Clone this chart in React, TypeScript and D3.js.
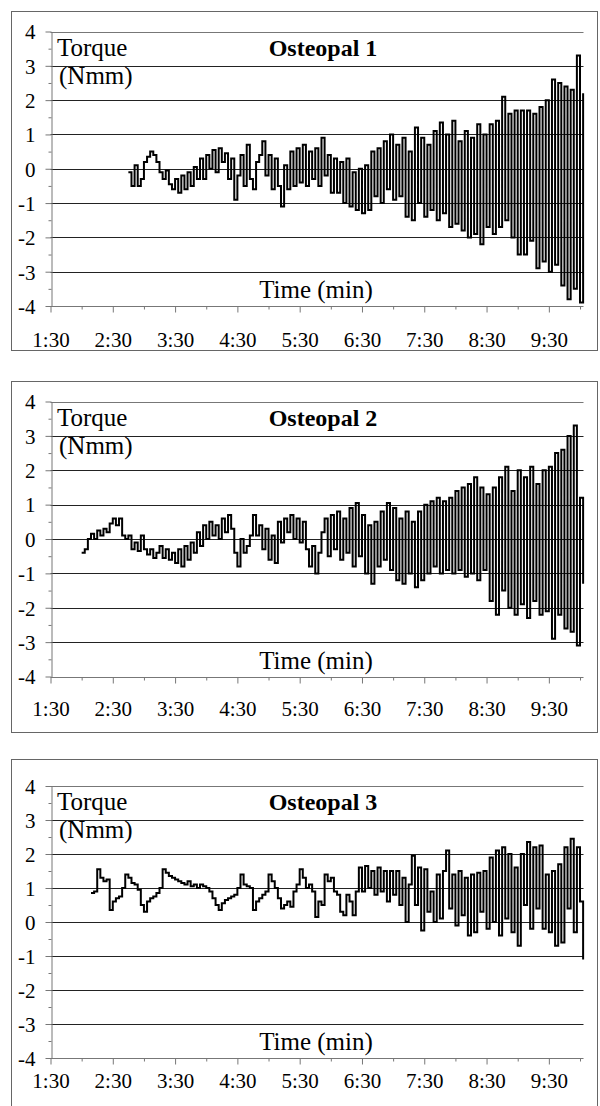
import * as d3 from "d3"
import { useEffect, useRef } from "react"

// torque readings, one every SAMPLE_STEP seconds, starting at the given second
const SAMPLE_STEP = 3

const osteopal1Start = 165
const osteopal1 = [
  -0.1, -0.5, 0.1, -0.5, -0.3, 0.2, 0.35, 0.5, 0.4, 0.2, -0.1, -0.3, -0.05, -0.45, -0.6, -0.3, -0.7, -0.2, -0.6, -0.1,
  -0.5, 0.05, -0.3, 0.3, -0.3, 0.4, 0.0, 0.55, -0.1, 0.6, 0.2, 0.45, -0.3, 0.3, -0.9, -0.2, 0.4, -0.5, 0.7, -0.3,
  -0.6, 0.2, 0.4, 0.8, -0.2, 0.4, -0.6, 0.3, -0.5, -1.1, 0.1, -0.6, 0.5, -0.5, 0.6, -0.4, 0.7, -0.5, 0.5, -0.3,
  0.6, -0.5, 0.9, -0.2, 0.4, -0.7, 0.3, -0.7, 0.2, -1.0, 0.3, -1.1, -0.1, -1.2, 0.0, -1.3, 0.1, -1.2, 0.5, -0.8,
  0.6, -1.0, 0.8, -0.6, 1.0, -0.9, 0.7, -0.8, 0.9, -1.4, 0.5, -1.5, 1.2, -1.0, 0.9, -1.4, 0.7, -1.2, 1.1, -1.5,
  1.35, -1.3, 1.0, -1.7, 1.4, -1.6, 0.8, -1.8, 1.1, -2.0, 0.9, -1.9, 1.3, -2.2, 1.0, -1.7, 1.3, -1.9, 1.4, -1.7,
  2.1, -1.5, 1.6, -2.0, 1.7, -2.5, 1.7, -2.5, 1.7, -2.1, 1.6, -2.9, 1.8, -2.7, 2.0, -3.0, 2.6, -2.8, 2.5, -3.4,
  2.4, -3.8, 2.3, -3.5, 3.3, -3.9, 2.2,
]

const osteopal2Start = 120
const osteopal2 = [
  -0.4, -0.3, 0.0, 0.15, 0.0, 0.25, 0.1, 0.3, 0.2, 0.45, 0.6, 0.4, 0.6, 0.1, 0.0, 0.1, -0.3, -0.1, -0.35, 0.1,
  -0.3, -0.45, -0.3, -0.55, -0.4, -0.2, -0.55, -0.3, -0.6, -0.4, -0.7, -0.3, -0.8, -0.2, -0.6, -0.1, -0.4, 0.2, -0.2, 0.4,
  0.0, 0.5, 0.1, 0.4, 0.0, 0.6, 0.2, 0.7, 0.3, -0.4, -0.8, 0.0, -0.4, -0.2, 0.1, 0.7, 0.1, 0.4, -0.3, 0.3,
  -0.6, 0.1, -0.7, 0.5, -0.1, 0.6, 0.2, 0.7, 0.0, 0.6, -0.1, 0.5, -0.3, -0.8, -0.2, -1.0, -0.4, 0.2, 0.6, -0.5,
  0.7, -0.3, 0.8, -0.6, 0.6, -0.4, 0.9, -0.8, 1.05, -0.5, 0.7, -1.0, 0.4, -1.3, 0.5, -0.8, 0.8, -0.6, 1.05, -0.9,
  0.9, -1.2, 0.6, -1.3, 0.8, -1.0, 0.5, -1.4, 0.8, -1.2, 1.0, -1.0, 1.1, -0.8, 1.2, -1.0, 1.1, -0.9, 1.2, -1.0,
  1.4, -0.9, 1.5, -1.1, 1.6, -1.0, 1.8, -1.2, 1.5, -0.9, 1.3, -1.8, 1.5, -2.2, 1.8, -1.5, 2.1, -2.0, 1.4, -2.2,
  2.0, -1.9, 1.8, -2.3, 2.1, -1.8, 1.6, -2.2, 2.0, -2.1, 2.1, -2.9, 2.5, -2.2, 2.6, -2.6, 3.0, -2.7, 3.3, -3.1,
  1.2, -1.3,
]

const osteopal3Start = 129
const osteopal3 = [
  0.85, 0.9, 1.55, 1.3, 1.2, 1.25, 0.35, 0.6, 0.7, 0.75, 1.0, 1.4, 1.3, 1.15, 1.1, 0.95, 0.5, 0.3, 0.6, 0.7,
  0.75, 0.85, 1.0, 1.55, 1.45, 1.35, 1.3, 1.25, 1.2, 1.15, 1.1, 1.2, 1.05, 1.1, 1.0, 1.1, 1.05, 1.0, 0.9, 0.7,
  0.5, 0.35, 0.55, 0.65, 0.7, 0.75, 0.8, 1.0, 1.4, 1.1, 1.05, 1.0, 0.35, 0.6, 0.7, 0.8, 0.9, 1.4, 1.2, 1.0,
  0.7, 0.4, 0.5, 0.6, 0.45, 0.9, 1.1, 1.55, 1.3, 1.0, 1.1, 0.9, 0.15, 0.6, 0.5, 1.4, 1.2, 1.3, 0.9, 0.8,
  0.3, 0.2, 0.8, 0.6, 0.2, 0.9, 1.6, 0.9, 1.65, 1.0, 1.5, 0.8, 1.6, 0.9, 1.5, 0.6, 1.5, 0.8, 1.5, 0.5,
  1.3, 0.0, 1.1, 1.95, 0.5, 1.6, -0.25, 1.55, 0.3, 0.9, 0.0, 1.4, 0.1, 1.5, 2.1, 0.4, 1.4, -0.1, 1.5, 0.2,
  1.3, -0.4, 1.4, -0.3, 1.45, 0.3, 1.5, -0.2, 1.9, 0.0, 2.1, -0.4, 2.2, 0.1, 2.0, -0.3, 1.6, -0.7, 2.0, 0.5,
  2.35, -0.2, 2.2, 0.4, 2.25, -0.2, 1.4, -0.3, 1.5, -0.7, 1.7, -0.6, 2.2, 0.4, 2.45, -0.3, 2.2, 0.6, -1.1,
]

const panelTitles = ["Osteopal 1", "Osteopal 2", "Osteopal 3"]
const yTicks = [-4, -3, -2, -1, 0, 1, 2, 3, 4]
const yMinorTicks = [-3.5, -2.5, -1.5, -0.5, 0.5, 1.5, 2.5, 3.5]
const xTickSeconds = [90, 150, 210, 270, 330, 390, 450, 510, 570]
const xTickLabels = ["1:30", "2:30", "3:30", "4:30", "5:30", "6:30", "7:30", "8:30", "9:30"]
const xMinorTickSeconds = [120, 180, 240, 300, 360, 420, 480, 540, 600]

const series = [
  { start: osteopal1Start, values: osteopal1 },
  { start: osteopal2Start, values: osteopal2 },
  { start: osteopal3Start, values: osteopal3 },
]

// page layout of the three boxes
const layout = [
  { boxTop: 11, boxBottom: 350, plotTop: 31.5, plotBottom: 306, labelY: 347 },
  { boxTop: 381, boxBottom: 732, plotTop: 401.5, plotBottom: 676.5, labelY: 716 },
  { boxTop: 759, boxBottom: 1115, plotTop: 786, plotBottom: 1058, labelY: 1088 },
]

const FONT = "'Liberation Serif', 'Times New Roman', Times, 'DejaVu Serif', serif"

export default function App() {
  const svgRef = useRef<SVGSVGElement>(null)

  useEffect(() => {
    if (!svgRef.current) return
    const svg = d3.select(svgRef.current)
    svg.selectAll("*").remove()

    const x = d3.scaleLinear().domain([90, 600]).range([50.5, 580])
    const gridRight = 583.5

    layout.forEach((box, idx) => {
      const { start, values } = series[idx]
      const g = svg.append("g")
      const y = d3.scaleLinear().domain([-4, 4]).range([box.plotBottom, box.plotTop])

      g.append("rect")
        .attr("x", 11.5)
        .attr("y", box.boxTop + 0.5)
        .attr("width", 586)
        .attr("height", box.boxBottom - box.boxTop)
        .attr("fill", "white")
        .attr("stroke", "#666")

      // gridlines
      g.append("g")
        .selectAll("line")
        .data(yTicks)
        .join("line")
        .attr("x1", x(90))
        .attr("x2", gridRight)
        .attr("y1", (d) => Math.round(y(d)) + 0.5)
        .attr("y2", (d) => Math.round(y(d)) + 0.5)
        .attr("stroke", (d) => (d === -4 || d === 4 ? "#777" : "#222"))
        .attr("stroke-width", 1)

      // y axis
      g.append("g")
        .attr("transform", `translate(${Math.round(x(90)) + 0.5},0)`)
        .call(d3.axisLeft(y).tickValues(yTicks).tickSize(6).tickSizeOuter(0).tickFormat((d) => String(d)))
        .call((a) => a.select(".domain").attr("stroke", "#777"))
        .call((a) => a.selectAll(".tick line").attr("stroke", "#777"))
        .call((a) =>
          a
            .selectAll("text")
            .attr("x", -16)
            .attr("dy", "0.35em")
            .attr("fill", "#000")
            .style("font-family", FONT)
            .style("font-size", "21px"),
        )
      g.append("g")
        .attr("transform", `translate(${Math.round(x(90)) + 0.5},0)`)
        .call(d3.axisLeft(y).tickValues(yMinorTicks).tickSize(3).tickFormat(() => ""))
        .call((a) => a.select(".domain").remove())
        .call((a) => a.selectAll(".tick line").attr("stroke", "#777"))

      // x axis
      const axisY = Math.round(y(-4)) + 0.5
      g.append("g")
        .attr("transform", `translate(0,${axisY})`)
        .call(d3.axisBottom(x).tickValues(xTickSeconds).tickSize(6).tickSizeOuter(0).tickFormat((_d, i) => xTickLabels[i]))
        .call((a) => a.select(".domain").remove())
        .call((a) => a.selectAll(".tick line").attr("stroke", "#777"))
        .call((a) =>
          a
            .selectAll("text")
            .attr("y", box.labelY - axisY)
            .attr("dy", 0)
            .attr("fill", "#000")
            .style("font-family", FONT)
            .style("font-size", "21px"),
        )
      g.append("g")
        .attr("transform", `translate(0,${axisY})`)
        .call(d3.axisBottom(x).tickValues(xMinorTickSeconds).tickSize(3).tickFormat(() => ""))
        .call((a) => a.select(".domain").remove())
        .call((a) => a.selectAll(".tick line").attr("stroke", "#777"))

      // torque trace
      const line = d3
        .line<number>()
        .x((_d, i) => x(start + i * SAMPLE_STEP))
        .y((d) => y(d))
        .curve(d3.curveStepAfter)
      g.append("path")
        .datum(values)
        .attr("d", line)
        .attr("fill", "none")
        .attr("stroke", "#000")
        .attr("stroke-width", 2)

      // labels
      const addText = (tx: number, ty: number, txt: string, size: number, anchor = "start", bold = false) =>
        g
          .append("text")
          .attr("x", tx)
          .attr("y", ty)
          .attr("text-anchor", anchor)
          .attr("fill", "#000")
          .style("font-family", FONT)
          .style("font-size", `${size}px`)
          .style("font-weight", bold ? "bold" : "normal")
          .text(txt)
      addText(57, box.plotTop + 24, "Torque", 25)
      addText(59, box.plotTop + 52, "(Nmm)", 25)
      addText(323, box.plotTop + 24, panelTitles[idx], 24, "middle", true)
      addText(316, box.plotBottom - 8, "Time (min)", 25, "middle")
    })
  }, [])

  return (
    <div style={{ position: "absolute", left: 0, top: 0 }}>
      <svg ref={svgRef} width={600} height={1106} style={{ display: "block" }}></svg>
    </div>
  )
}
